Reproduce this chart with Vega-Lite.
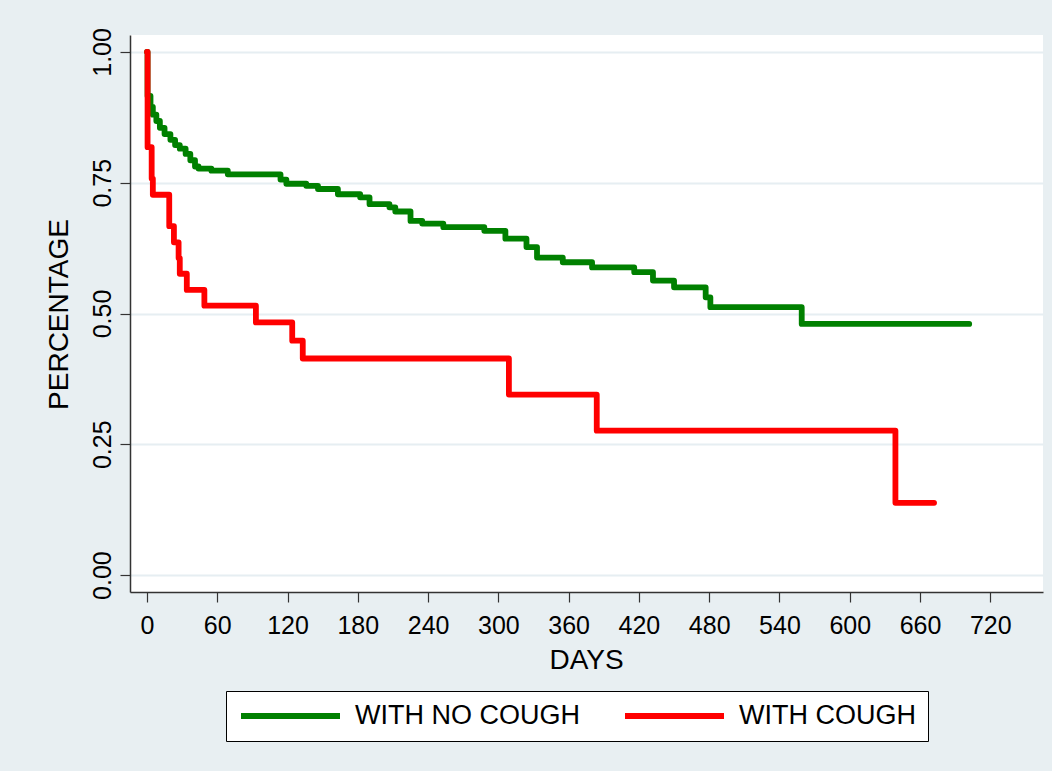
{
  "$schema": "https://vega.github.io/schema/vega-lite/v6.json",
  "width": 913,
  "height": 557,
  "autosize": {"type": "none"},
  "padding": {"left": 130, "top": 35, "right": 9, "bottom": 179},
  "background": "#e8eff2",
  "config": {
    "view": {"fill": "white", "stroke": null},
    "font": "Liberation Sans",
    "axis": {
      "labelFont": "Liberation Sans",
      "titleFont": "Liberation Sans",
      "labelColor": "black",
      "titleColor": "black",
      "titleFontWeight": "normal",
      "domainColor": "#333333",
      "domainWidth": 1.5,
      "tickColor": "#333333",
      "tickWidth": 1.2,
      "tickSize": 10
    }
  },
  "data": {
    "values": [
      {"group": "WITH NO COUGH", "day": 0, "surv": 1.0},
      {"group": "WITH NO COUGH", "day": 0.5, "surv": 0.916},
      {"group": "WITH NO COUGH", "day": 3, "surv": 0.895},
      {"group": "WITH NO COUGH", "day": 5, "surv": 0.88},
      {"group": "WITH NO COUGH", "day": 8, "surv": 0.868},
      {"group": "WITH NO COUGH", "day": 11, "surv": 0.855},
      {"group": "WITH NO COUGH", "day": 15, "surv": 0.843},
      {"group": "WITH NO COUGH", "day": 20, "surv": 0.832},
      {"group": "WITH NO COUGH", "day": 24, "surv": 0.822},
      {"group": "WITH NO COUGH", "day": 28, "surv": 0.815},
      {"group": "WITH NO COUGH", "day": 33, "surv": 0.805},
      {"group": "WITH NO COUGH", "day": 37, "surv": 0.793},
      {"group": "WITH NO COUGH", "day": 41, "surv": 0.781},
      {"group": "WITH NO COUGH", "day": 44, "surv": 0.777},
      {"group": "WITH NO COUGH", "day": 55, "surv": 0.773},
      {"group": "WITH NO COUGH", "day": 69, "surv": 0.766},
      {"group": "WITH NO COUGH", "day": 114, "surv": 0.756},
      {"group": "WITH NO COUGH", "day": 119, "surv": 0.748},
      {"group": "WITH NO COUGH", "day": 136, "surv": 0.744},
      {"group": "WITH NO COUGH", "day": 146, "surv": 0.738},
      {"group": "WITH NO COUGH", "day": 163, "surv": 0.728},
      {"group": "WITH NO COUGH", "day": 182, "surv": 0.722},
      {"group": "WITH NO COUGH", "day": 190, "surv": 0.709},
      {"group": "WITH NO COUGH", "day": 207, "surv": 0.703},
      {"group": "WITH NO COUGH", "day": 212, "surv": 0.695},
      {"group": "WITH NO COUGH", "day": 225, "surv": 0.677},
      {"group": "WITH NO COUGH", "day": 235, "surv": 0.672},
      {"group": "WITH NO COUGH", "day": 253, "surv": 0.665},
      {"group": "WITH NO COUGH", "day": 288, "surv": 0.658},
      {"group": "WITH NO COUGH", "day": 306, "surv": 0.643},
      {"group": "WITH NO COUGH", "day": 324, "surv": 0.627},
      {"group": "WITH NO COUGH", "day": 333, "surv": 0.607},
      {"group": "WITH NO COUGH", "day": 355, "surv": 0.598},
      {"group": "WITH NO COUGH", "day": 380, "surv": 0.588},
      {"group": "WITH NO COUGH", "day": 416, "surv": 0.579},
      {"group": "WITH NO COUGH", "day": 432, "surv": 0.563},
      {"group": "WITH NO COUGH", "day": 450, "surv": 0.55},
      {"group": "WITH NO COUGH", "day": 477, "surv": 0.531},
      {"group": "WITH NO COUGH", "day": 481, "surv": 0.512},
      {"group": "WITH NO COUGH", "day": 559, "surv": 0.48},
      {"group": "WITH NO COUGH", "day": 702, "surv": 0.48},
      {"group": "WITH COUGH", "day": 0, "surv": 1.0},
      {"group": "WITH COUGH", "day": 0.5, "surv": 0.818},
      {"group": "WITH COUGH", "day": 4, "surv": 0.758},
      {"group": "WITH COUGH", "day": 5, "surv": 0.727},
      {"group": "WITH COUGH", "day": 19, "surv": 0.667},
      {"group": "WITH COUGH", "day": 23, "surv": 0.636},
      {"group": "WITH COUGH", "day": 27, "surv": 0.606},
      {"group": "WITH COUGH", "day": 28, "surv": 0.576},
      {"group": "WITH COUGH", "day": 34, "surv": 0.545},
      {"group": "WITH COUGH", "day": 49, "surv": 0.515},
      {"group": "WITH COUGH", "day": 93, "surv": 0.483},
      {"group": "WITH COUGH", "day": 124, "surv": 0.448},
      {"group": "WITH COUGH", "day": 133, "surv": 0.414},
      {"group": "WITH COUGH", "day": 309, "surv": 0.345},
      {"group": "WITH COUGH", "day": 384, "surv": 0.276},
      {"group": "WITH COUGH", "day": 639, "surv": 0.138},
      {"group": "WITH COUGH", "day": 672, "surv": 0.138}
    ]
  },
  "mark": {"type": "line", "interpolate": "step-after", "strokeWidth": 5.8, "strokeCap": "round", "strokeJoin": "round"},
  "encoding": {
    "x": {
      "field": "day",
      "type": "quantitative",
      "scale": {"domain": [-14.5, 765], "nice": false, "zero": false},
      "axis": {
        "values": [0, 60, 120, 180, 240, 300, 360, 420, 480, 540, 600, 660, 720],
        "grid": false,
        "labelFontSize": 25,
        "labelBaseline": "alphabetic",
        "labelPadding": 31,
        "labelFlush": false,
        "labelOverlap": false,
        "title": "DAYS",
        "titleFontSize": 28,
        "titleBaseline": "alphabetic",
        "titleAlign": "center",
        "titleX": 456,
        "titleY": 76
      }
    },
    "y": {
      "field": "surv",
      "type": "quantitative",
      "scale": {"domain": [-0.0324, 1.0324], "nice": false, "zero": false},
      "axis": {
        "values": [0, 0.25, 0.5, 0.75, 1],
        "format": ".2f",
        "grid": true,
        "gridColor": "#e6eef2",
        "gridWidth": 2,
        "labelFontSize": 25,
        "labelAngle": 270,
        "labelAlign": "center",
        "labelBaseline": "alphabetic",
        "labelPadding": 10,
        "labelOverlap": false,
        "labelFlush": false,
        "title": "PERCENTAGE",
        "titleFontSize": 28,
        "titleAngle": 270,
        "titleAlign": "center",
        "titleBaseline": "alphabetic",
        "titleX": -63,
        "titleY": 279
      }
    },
    "color": {
      "field": "group",
      "type": "nominal",
      "scale": {"domain": ["WITH NO COUGH", "WITH COUGH"], "range": ["#008000", "#ff0000"]},
      "legend": {
        "title": null,
        "orient": "none",
        "legendX": 96,
        "legendY": 656,
        "direction": "horizontal",
        "columns": 2,
        "columnPadding": 42,
        "symbolType": "stroke",
        "symbolSize": 9801,
        "symbolStrokeWidth": 6,
        "symbolOffset": 0,
        "clipHeight": 26,
        "labelFont": "Liberation Sans",
        "labelFontSize": 27,
        "labelColor": "black",
        "labelOffset": 12,
        "labelLimit": 400,
        "padding": 12,
        "strokeColor": "black",
        "fillColor": "white",
        "cornerRadius": 0
      }
    }
  }
}
